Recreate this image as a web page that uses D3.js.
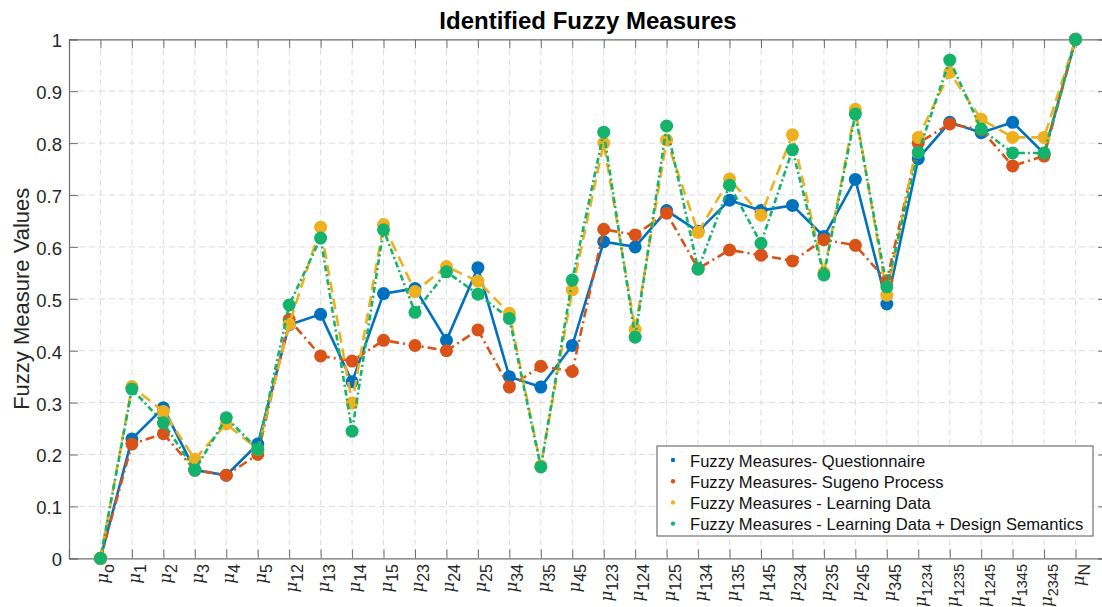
<!DOCTYPE html>
<html><head><meta charset="utf-8">
<script src="https://cdn.jsdelivr.net/npm/d3@7"></script>
<style>
body{margin:0;background:#fff;}
svg{display:block;font-family:"Liberation Sans",Arial,Helvetica,sans-serif;}
</style></head>
<body>
<svg id="chart" width="1102" height="607"></svg>
<script>
const categories = ["o","1","2","3","4","5","12","13","14","15","23","24","25","34","35","45",
  "123","124","125","134","135","145","234","235","245","345","1234","1235","1245","1345","2345","N"];
const questionnaire = [0,0.23,0.29,0.17,0.16,0.22,0.45,0.47,0.34,0.51,0.52,0.42,0.56,0.35,0.33,0.41,
  0.61,0.60,0.67,0.63,0.69,0.67,0.68,0.62,0.73,0.49,0.77,0.84,0.82,0.84,0.78,1];
const sugeno = [0,0.22,0.24,0.17,0.16,0.20,0.46,0.39,0.38,0.42,0.41,0.40,0.44,0.33,0.37,0.36,
  0.634,0.623,0.665,0.558,0.594,0.584,0.573,0.614,0.603,0.535,0.80,0.837,0.826,0.756,0.775,1];
const learning = [0,0.331,0.283,0.191,0.259,0.21,0.451,0.638,0.299,0.643,0.514,0.562,0.534,0.472,0.178,0.517,
  0.80,0.441,0.806,0.628,0.731,0.661,0.816,0.55,0.865,0.507,0.811,0.936,0.846,0.811,0.811,1];
const semantics = [0,0.326,0.261,0.170,0.271,0.21,0.488,0.617,0.245,0.633,0.474,0.552,0.509,0.462,0.176,0.536,
  0.821,0.426,0.833,0.557,0.719,0.607,0.787,0.546,0.856,0.523,0.782,0.960,0.827,0.781,0.781,1];
const yTicks = [0,0.1,0.2,0.3,0.4,0.5,0.6,0.7,0.8,0.9,1];

const series = [
  {name:"Fuzzy Measures- Questionnaire", values:questionnaire, color:"#0072BD", dash:null},
  {name:"Fuzzy Measures- Sugeno Process", values:sugeno, color:"#D95319", dash:"9,4,2,4"},
  {name:"Fuzzy Measures - Learning Data", values:learning, color:"#EDB120", dash:"11,6"},
  {name:"Fuzzy Measures - Learning Data + Design Semantics", values:semantics, color:"#14B26A", dash:"6,3,2,3"}
];

const svg = d3.select("#chart");
const L = 69, R = 1107, T = 39.3, B = 558.3;
const x = d3.scaleLinear().domain([-1, categories.length]).range([L, R]);
const y = d3.scaleLinear().domain([0, 1]).range([B, T]);
const axisColor = "#707070";

// grid
const g = svg.append("g");
g.selectAll(".vg").data(categories).join("line")
  .attr("x1",(d,i)=>x(i)).attr("x2",(d,i)=>x(i)).attr("y1",T).attr("y2",B)
  .attr("stroke","#dcdcdc").attr("stroke-width",1).attr("stroke-dasharray","6,4");
g.selectAll(".hg").data(yTicks.slice(1,-1)).join("line")
  .attr("x1",L).attr("x2",R).attr("y1",d=>y(d)).attr("y2",d=>y(d))
  .attr("stroke","#dcdcdc").attr("stroke-width",1).attr("stroke-dasharray","6,4");

// axes
const xAxis = svg.append("g").attr("transform",`translate(0,${B})`)
  .call(d3.axisBottom(x).tickValues(d3.range(categories.length)).tickSize(-9).tickFormat(""));
const xAxisTop = svg.append("g").attr("transform",`translate(0,${T})`)
  .call(d3.axisTop(x).tickValues(d3.range(categories.length)).tickSize(-9).tickFormat(""));
const yAxis = svg.append("g").attr("transform",`translate(${L},0)`)
  .call(d3.axisLeft(y).tickValues(yTicks).tickSize(-9).tickPadding(7).tickFormat(d3.format("~g")));
const yAxisR = svg.append("g").attr("transform",`translate(${R},0)`)
  .call(d3.axisRight(y).tickValues(yTicks).tickSize(-9).tickFormat(""));
[xAxis,xAxisTop,yAxis,yAxisR].forEach(a=>{
  a.select(".domain").attr("stroke",axisColor).attr("stroke-width",1.2);
  a.selectAll(".tick line").attr("stroke",axisColor);
});
yAxis.selectAll(".tick text").attr("font-size",18.5).attr("fill","#262626").attr("dy","0.4em");

// x labels
const xl = svg.append("g");
categories.forEach((c,i)=>{
  const t = xl.append("text")
    .attr("transform",`translate(${x(i)},564) rotate(-90)`)
    .attr("text-anchor","end").attr("y",8).attr("font-size",16.5).attr("fill","#262626");
  t.append("tspan").text("μ").attr("font-style","italic").attr("font-family","'DejaVu Serif',serif");
  t.append("tspan").text(c).attr("dy",6).attr("font-size",c.length > 3 ? 14.5 : 16);
});

// lines
series.forEach(s=>{
  const line = d3.line().x((d,i)=>x(i)).y(d=>y(d));
  svg.append("path").datum(s.values).attr("d",line)
    .attr("fill","none").attr("stroke",s.color).attr("stroke-width",2.6)
    .attr("stroke-dasharray",s.dash);
  svg.append("g").selectAll("circle").data(s.values).join("circle")
    .attr("cx",(d,i)=>x(i)).attr("cy",d=>y(d)).attr("r",6.5).attr("fill",s.color);
});

// title
svg.append("text").attr("x",588).attr("y",28.5).attr("text-anchor","middle")
  .attr("font-size",24).attr("font-weight","bold").attr("fill","#000").text("Identified Fuzzy Measures");
// y label
svg.append("text").attr("transform",`translate(29,${(T+B)/2}) rotate(-90)`)
  .attr("text-anchor","middle").attr("font-size",22).attr("fill","#262626").text("Fuzzy Measure Values");

// legend
const lg = svg.append("g");
lg.append("rect").attr("x",657).attr("y",446).attr("width",436).attr("height",90)
  .attr("fill","#fff").attr("stroke","#555").attr("stroke-width",1);
series.forEach((s,i)=>{
  const yy = 461 + i*21.2;
  lg.append("circle").attr("cx",673).attr("cy",yy-1).attr("r",2.2).attr("fill",s.color);
  lg.append("text").attr("x",690).attr("y",yy+5.5).attr("font-size",16.6).attr("fill","#111").text(s.name);
});
</script>
</body></html>
